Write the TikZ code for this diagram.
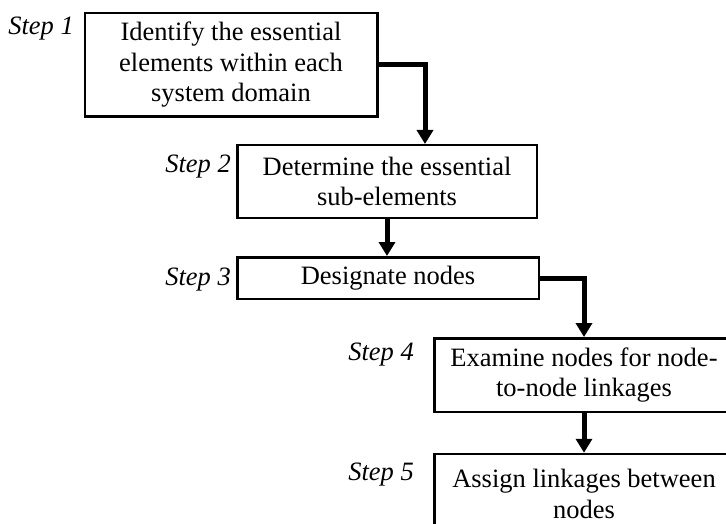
\documentclass[tikz,border=0pt]{standalone}
\usepackage{fontspec}
\setmainfont{Liberation Serif}
\usetikzlibrary{arrows.meta}
\begin{document}
\begin{tikzpicture}[x=1pt,y=-1pt,
  stepbox/.style={draw, line width=2.5pt, rectangle, align=center, inner sep=0pt,
    font=\fontsize{26.5}{30.5}\selectfont},
  steplabel/.style={anchor=base east, inner sep=0pt, font=\fontsize{26.5}{30.5}\selectfont\itshape},
  arr/.style={line width=5pt, line join=miter, -{Triangle[width=16pt,length=14pt]}}]
\useasboundingbox (0,0) rectangle (726,524);
\node[stepbox, minimum width=292.5pt, minimum height=103.5pt] (b1) at (231,65)
  {Identify the essential\\elements within each\\system domain};
\node[stepbox, minimum width=299.5pt, minimum height=72.5pt] (b2) at (387,181.5)
  {Determine the essential\\sub-elements};
\node[stepbox, minimum width=301.5pt, minimum height=41.5pt] (b3) at (388,278)
  {Designate nodes};
\node[stepbox, minimum width=299.5pt, minimum height=73.5pt] (b4) at (584,375)
  {Examine nodes for node-\\to-node linkages};
\node[stepbox, minimum width=299.5pt, minimum height=80pt] (b5) at (584,494)
  {Assign linkages between\\nodes};
\node[steplabel] (s1) at (74,35) {Step 1};
\node[steplabel] (s2) at (231,173) {Step 2};
\node[steplabel] (s3) at (231,285) {Step 3};
\node[steplabel] (s4) at (414,360) {Step 4};
\node[steplabel] (s5) at (414,480) {Step 5};
\draw[arr] (b1.east) -| (b2.north -| 425,0);
\draw[arr] (b2.south) -- (b2.south |- b3.north);
\draw[arr] (b3.east) -| (b4.north);
\draw[arr] (b4.south) -- (b5.north);
\end{tikzpicture}
\end{document}
